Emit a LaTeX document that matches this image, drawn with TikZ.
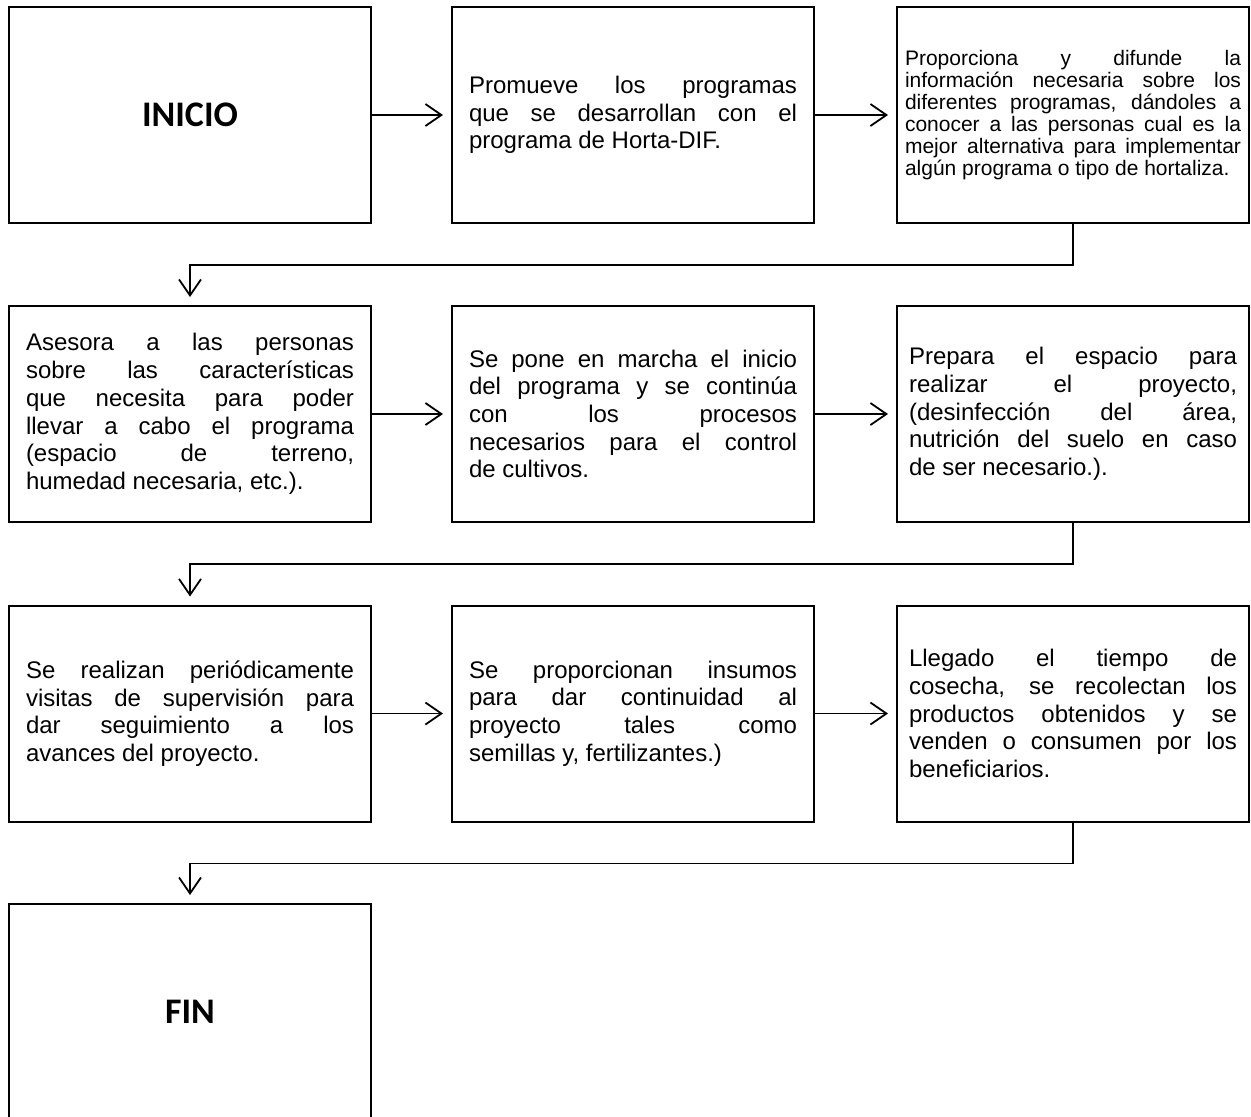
\documentclass[tikz,border=0pt]{standalone}
\usepackage{fontspec}
\setmainfont{Liberation Sans}
\newfontfamily\titulo{Carlito}
\usetikzlibrary{arrows.meta,positioning}
\tikzset{>={Straight Barb[length=8pt,width=11pt]}}
\newcommand{\lin}[2][164pt]{\makebox[#1][s]{#2}\\}

\begin{document}
\begin{tikzpicture}[x=0.5pt,y=-0.5pt,
    caja/.style={draw,line width=1pt,minimum width=181pt,minimum height=108pt,
      inner sep=0pt,align=left,font=\fontsize{12}{13.85}\selectfont},
    cajader/.style={caja,minimum width=176pt},
    grande/.style={font=\titulo\bfseries\fontsize{18}{20}\selectfont},
    flecha/.style={->,line width=0.9pt,shorten >=4pt}]
  \useasboundingbox (0,0) rectangle (1251,1116);
  \def\baja{41}
  % fila 1
  \node[caja,grande] (inicio) at (190,115) {INICIO};
  \node[caja] (promueve) at (633,115) {\lin{Promueve los programas}\lin{que se desarrollan con el}programa de Horta-DIF.};
  \node[cajader,font=\fontsize{10.5}{11}\selectfont] (difunde) at (1073,115)
    {\lin[168pt]{Proporciona y difunde la}\lin[168pt]{información necesaria sobre los}\lin[168pt]{diferentes programas, dándoles a}\lin[168pt]{conocer a las personas cual es la}\lin[168pt]{mejor alternativa para implementar}algún programa o tipo de hortaliza.};
  % fila 2
  \node[caja] (asesora) at (190,414) {\lin{Asesora a las personas}\lin{sobre las características}\lin{que necesita para poder}\lin{llevar a cabo el programa}\lin{(espacio de terreno,}humedad necesaria, etc.).};
  \node[caja] (marcha) at (633,414) {\lin{Se pone en marcha el inicio}\lin{del programa y se continúa}\lin{con los procesos}\lin{necesarios para el control}de cultivos.};
  \node[cajader] (prepara) at (1073,414) {\lin{Prepara el espacio para}\lin{realizar el proyecto,}\lin{(desinfección del área,}\lin{nutrición del suelo en caso}de ser necesario.).};
  % fila 3
  \node[caja] (visitas) at (190,713.5) {\lin{Se realizan periódicamente}\lin{visitas de supervisión para}\lin{dar seguimiento a los}avances del proyecto.};
  \node[caja] (insumos) at (633,713.5) {\lin{Se proporcionan insumos}\lin{para dar continuidad al}\lin{proyecto tales como}semillas y, fertilizantes.)};
  \node[cajader] (cosecha) at (1073,713.5) {\lin{Llegado el tiempo de}\lin{cosecha, se recolectan los}\lin{productos obtenidos y se}\lin{venden o consumen por los}beneficiarios.};
  % fila 4
  \node[caja,grande] (fin) at (190,1012) {FIN};
  % conectores
  \begin{scope}[flecha]
    \draw (inicio) -- (promueve);
    \draw (promueve) -- (difunde);
    \draw (difunde.south) -- ++(0,\baja) -| (asesora.north);
    \draw (asesora) -- (marcha);
    \draw (marcha) -- (prepara);
    \draw (prepara.south) -- ++(0,\baja) -| (visitas.north);
    \draw (visitas) -- (insumos);
    \draw (insumos) -- (cosecha);
    \draw (cosecha.south) -- ++(0,\baja) -| (fin.north);
  \end{scope}
\end{tikzpicture}
\end{document}
